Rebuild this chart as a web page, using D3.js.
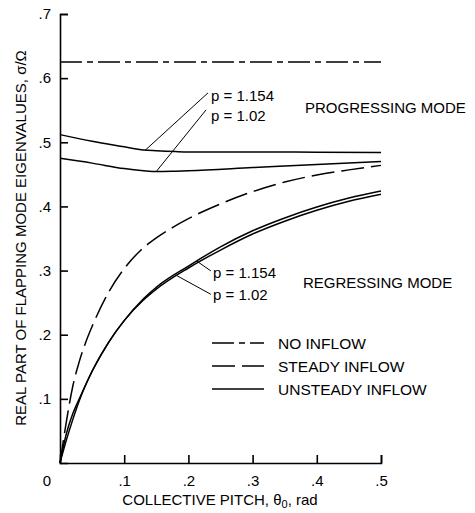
<!DOCTYPE html>
<html>
<head>
<meta charset="utf-8">
<script src="https://cdn.jsdelivr.net/npm/d3@7"></script>
<style>
  body { margin: 0; background: #fff; }
  text { font-family: "Liberation Sans", Arial, sans-serif; fill: #000; }
</style>
</head>
<body>
<svg id="chart" width="475" height="513"></svg>
<script>
// Axis ticks and labels
const xTicks = [0.1, 0.2, 0.3, 0.4, 0.5];
const xTickLabels = [".1", ".2", ".3", ".4", ".5"];
const yTicks = [0.1, 0.2, 0.3, 0.4, 0.5, 0.6, 0.7];
const yTickLabels = [".1", ".2", ".3", ".4", ".5", ".6", ".7"];

// No inflow: constant eigenvalue
const noInflowTheta = [0, 0.5];
const noInflowSigma = [0.625, 0.625];

// Steady inflow, regressing mode
const steadyTheta = [0, 0.01, 0.02, 0.03, 0.04, 0.05, 0.075, 0.1, 0.125, 0.15, 0.175, 0.2, 0.25, 0.3, 0.35, 0.4, 0.45, 0.5];
const steadySigma = [0, 0.065, 0.12, 0.158, 0.188, 0.213, 0.265, 0.303, 0.331, 0.351, 0.367, 0.381, 0.404, 0.423, 0.438, 0.449, 0.457, 0.464];

// Unsteady inflow, progressing mode
const progTheta = [0, 0.05, 0.1, 0.13, 0.15, 0.18, 0.2, 0.3, 0.4, 0.5];
const progSigmaP1154 = [0.512, 0.5015, 0.493, 0.488, 0.4868, 0.4855, 0.485, 0.485, 0.4845, 0.484];
const progSigmaP102 = [0.475, 0.4675, 0.459, 0.4558, 0.4545, 0.455, 0.4555, 0.4605, 0.4655, 0.47];

// Unsteady inflow, regressing mode
const regTheta = [0, 0.01, 0.02, 0.03, 0.05, 0.075, 0.1, 0.13, 0.15, 0.2, 0.25, 0.3, 0.35, 0.4, 0.45, 0.5];
const regSigmaP102 = [0, 0.036, 0.068, 0.097, 0.143, 0.187, 0.222, 0.254, 0.271, 0.304, 0.332, 0.357, 0.377, 0.394, 0.408, 0.419];
const regSigmaP1154 = [0, 0.046, 0.077, 0.1, 0.143, 0.187, 0.222, 0.256, 0.274, 0.307, 0.337, 0.362, 0.382, 0.399, 0.413, 0.424];

const svg = d3.select("#chart");

const x = d3.scaleLinear().domain([0, 0.5]).range([60, 381]);
const y = d3.scaleLinear().domain([0, 0.7]).range([463, 14]);

const zip = (ts, ss) => ts.map((t, i) => [t, ss[i]]);
const line = d3.line().x(d => x(d[0])).y(d => y(d[1])).curve(d3.curveMonotoneX);
const at = (ts, ss, t) => {
  const i = Math.max(1, d3.bisectLeft(ts, t));
  const k = (t - ts[i - 1]) / (ts[i] - ts[i - 1]);
  return ss[i - 1] + k * (ss[i] - ss[i - 1]);
};

// Axes with inward ticks
const xAxis = d3.axisBottom(x).tickValues(xTicks)
  .tickFormat((d, i) => xTickLabels[i]).tickSizeInner(-8).tickSizeOuter(-8).tickPadding(12);
const yAxis = d3.axisLeft(y).tickValues(yTicks)
  .tickFormat((d, i) => yTickLabels[i]).tickSizeInner(-8).tickSizeOuter(-8).tickPadding(9);

const gx = svg.append("g").attr("transform", "translate(0,463)").call(xAxis);
const gy = svg.append("g").attr("transform", "translate(60,0)").call(yAxis);
[gx, gy].forEach(g => {
  g.selectAll("path, line").attr("stroke", "#000").attr("stroke-width", 1.6);
  g.selectAll("text").attr("font-size", 15).attr("fill", "#000")
    .style("font-family", '"Liberation Sans", Arial, sans-serif');
});

// Shared origin label
svg.append("text").attr("x", x(0) - 13).attr("y", 486)
  .attr("text-anchor", "middle").attr("font-size", 15).text("0");

// Curves
const curves = [
  { pts: zip(noInflowTheta, noInflowSigma), dash: "22,5,6,5" },
  { pts: zip(steadyTheta, steadySigma), dash: "23,7" },
  { pts: zip(progTheta, progSigmaP1154), dash: null },
  { pts: zip(progTheta, progSigmaP102), dash: null },
  { pts: zip(regTheta, regSigmaP102), dash: null },
  { pts: zip(regTheta, regSigmaP1154), dash: null }
];
svg.append("g").selectAll("path").data(curves).join("path")
  .attr("d", d => line(d.pts))
  .attr("fill", "none").attr("stroke", "#000").attr("stroke-width", 1.5)
  .attr("stroke-dasharray", d => d.dash);

// Leader lines from curves to their labels
const leaders = [
  { t: 0.133, s: at(progTheta, progSigmaP1154, 0.133), tx: 0.2305, sx: 0.577 },
  { t: 0.15, s: at(progTheta, progSigmaP102, 0.15), tx: 0.2275, sx: 0.5505 },
  { t: 0.213, s: at(regTheta, regSigmaP1154, 0.213), tx: 0.235, sx: 0.2995 },
  { t: 0.182, s: at(regTheta, regSigmaP102, 0.182), tx: 0.235, sx: 0.263 }
];
svg.append("g").selectAll("line").data(leaders).join("line")
  .attr("x1", d => x(d.t)).attr("y1", d => y(d.s))
  .attr("x2", d => x(d.tx)).attr("y2", d => y(d.sx))
  .attr("stroke", "#000").attr("stroke-width", 1);

// Annotations
const notes = [
  { text: "p = 1.154", x: 211, y: 101 },
  { text: "p = 1.02", x: 211, y: 121 },
  { text: "PROGRESSING MODE", x: 305, y: 113 },
  { text: "p = 1.154", x: 213, y: 278 },
  { text: "p = 1.02", x: 213, y: 300 },
  { text: "REGRESSING MODE", x: 303, y: 288 }
];
svg.append("g").selectAll("text").data(notes).join("text")
  .attr("x", d => d.x).attr("y", d => d.y).attr("font-size", 15).text(d => d.text);

// Legend
const legendNames = ["NO INFLOW", "STEADY INFLOW", "UNSTEADY INFLOW"];
const legendDash = ["22,5,6,5", "23,7", null];
const legendY = [343, 366, 389];
const lg = svg.append("g");
legendNames.forEach((name, i) => {
  lg.append("line").attr("x1", 212).attr("x2", 264).attr("y1", legendY[i]).attr("y2", legendY[i])
    .attr("stroke", "#000").attr("stroke-width", 1.5).attr("stroke-dasharray", legendDash[i]);
  lg.append("text").attr("x", 278).attr("y", legendY[i]).attr("dy", "0.36em")
    .attr("font-size", 15.5).text(name);
});

// Axis titles
const xt = svg.append("text").attr("x", 220).attr("y", 505).attr("text-anchor", "middle").attr("font-size", 15);
xt.append("tspan").text("COLLECTIVE PITCH, θ");
xt.append("tspan").attr("font-size", 11).attr("dy", 3).text("0");
xt.append("tspan").attr("dy", -3).text(", rad");

svg.append("text").attr("transform", "translate(26,238) rotate(-90)")
  .attr("text-anchor", "middle").attr("font-size", 15)
  .text("REAL PART OF FLAPPING MODE EIGENVALUES, σ/Ω");
</script>
</body>
</html>
